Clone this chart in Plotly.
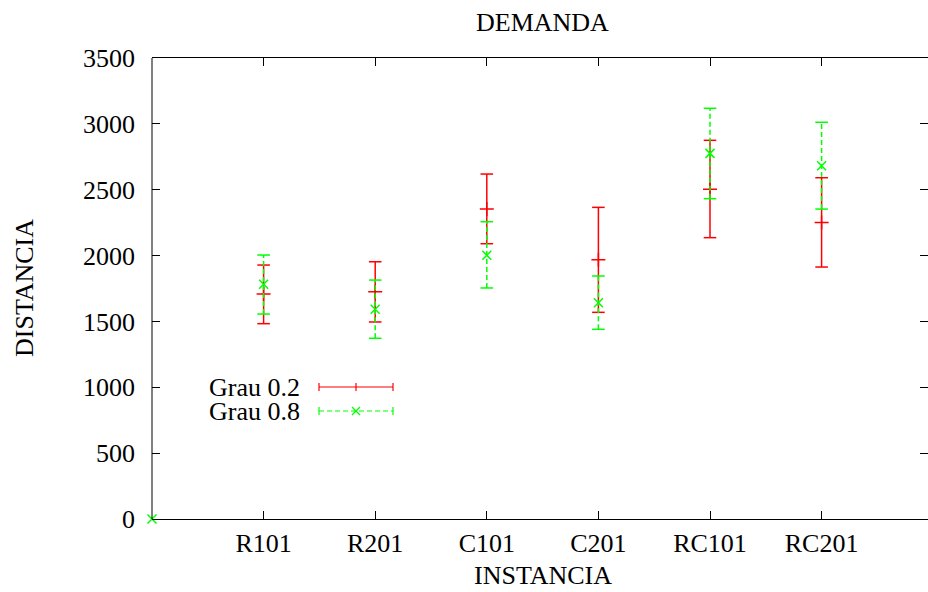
import plotly.graph_objects as go

categories = ["R101", "R201", "C101", "C201", "RC101", "RC201"]
cat_pos = [1, 2, 3, 4, 5, 6]

# Grau 0.2 (red)
g02_mean = [1708, 1726, 2353, 1969, 2503, 2252]
g02_low = [1483, 1496, 2090, 1569, 2136, 1913]
g02_high = [1928, 1953, 2619, 2366, 2875, 2591]

# Grau 0.8 (green) - includes the extra origin point at x=0
g08_x = [0, 1, 2, 3, 4, 5, 6]
g08_mean = [0, 1782, 1592, 2002, 1642, 2776, 2682]
g08_low = [0, 1556, 1372, 1754, 1440, 2432, 2353]
g08_high = [0, 2004, 1814, 2257, 1845, 3118, 3012]

yticks = [0, 500, 1000, 1500, 2000, 2500, 3000, 3500]

RED = "#ff0000"
GREEN = "#00ff00"
FONT = "Liberation Serif"
FS = 26

W, H = 928, 592
ML, MR, MT, MB = 152, 0, 58, 592 - 519
PW = W - ML - MR
PH = H - MT - MB
XSTEP = 111.6  # px per category unit


def bar_traces(xs, lows, highs, color, dash):
    lx, ly, cx, cy = [], [], [], []
    for x, lo, hi in zip(xs, lows, highs):
        if lo == hi:
            continue
        lx += [x, x, None]
        ly += [lo, hi, None]
        cx += [x, x]
        cy += [lo, hi]
    line = go.Scatter(x=lx, y=ly, mode="lines", line=dict(color=color, width=1.5, dash=dash),
                      showlegend=False, hoverinfo="skip")
    caps = go.Scatter(x=cx, y=cy, mode="markers",
                      marker=dict(symbol="line-ew", size=9, line=dict(color=color, width=1.5)),
                      showlegend=False, hoverinfo="skip")
    return [line, caps]


fig = go.Figure()
for t in bar_traces(cat_pos, g02_low, g02_high, RED, "solid"):
    fig.add_trace(t)
fig.add_trace(go.Scatter(x=cat_pos, y=g02_mean, mode="markers", name="Grau 0.2",
                         marker=dict(symbol="cross-thin", size=10, line=dict(color=RED, width=1.5)),
                         showlegend=False, cliponaxis=False))
for t in bar_traces(g08_x, g08_low, g08_high, GREEN, "5px,3px"):
    fig.add_trace(t)
fig.add_trace(go.Scatter(x=g08_x, y=g08_mean, mode="markers", name="Grau 0.8",
                         marker=dict(symbol="x-thin", size=9, line=dict(color=GREEN, width=1.5)),
                         showlegend=False, cliponaxis=False))


# helpers: picture pixel -> paper coordinates
def px2x(px):
    return (px - ML) / PW


def px2y(py):
    return (H - MB - py) / PH


shapes = [
    dict(type="line", xref="paper", yref="paper", x0=0, x1=0, y0=0, y1=1,
         line=dict(color="black", width=1), layer="above"),
]
annotations = []
leg = [("Grau 0.2", RED, "solid", 387, "plus"), ("Grau 0.8", GREEN, "5px,3px", 411, "x")]
for label, col, dash, py, mk in leg:
    y = px2y(py)
    x0, x1, xm = px2x(319), px2x(393), px2x(356)
    dy = 4 / PH
    dx = 4 / PW
    shapes.append(dict(type="line", xref="paper", yref="paper", x0=x0, x1=x1, y0=y, y1=y,
                       line=dict(color=col, width=1.2, dash=dash)))
    for xx in (x0, x1):
        shapes.append(dict(type="line", xref="paper", yref="paper", x0=xx, x1=xx, y0=y - dy, y1=y + dy,
                           line=dict(color=col, width=1.2)))
    if mk == "plus":
        shapes.append(dict(type="line", xref="paper", yref="paper", x0=xm, x1=xm, y0=y - dy, y1=y + dy,
                           line=dict(color=col, width=1.2)))
    else:
        shapes.append(dict(type="line", xref="paper", yref="paper", x0=xm - dx, x1=xm + dx, y0=y - dy, y1=y + dy,
                           line=dict(color=col, width=1.2)))
        shapes.append(dict(type="line", xref="paper", yref="paper", x0=xm - dx, x1=xm + dx, y0=y + dy, y1=y - dy,
                           line=dict(color=col, width=1.2)))
    annotations.append(dict(text=label, xref="paper", yref="paper", x=px2x(302), y=y,
                            xanchor="right", yanchor="middle", showarrow=False,
                            font=dict(family=FONT, size=26, color="black")))

# axis titles
annotations.append(dict(text="INSTANCIA", xref="paper", yref="paper", x=px2x(543), y=px2y(592),
                        xanchor="center", yanchor="bottom", showarrow=False,
                        font=dict(family=FONT, size=FS, color="black")))
annotations.append(dict(text="DISTANCIA", xref="paper", yref="paper", x=px2x(24), y=px2y(288),
                        xanchor="center", yanchor="middle", textangle=-90, showarrow=False,
                        font=dict(family=FONT, size=FS, color="black")))
annotations.append(dict(text="DEMANDA", xref="paper", yref="paper", x=px2x(542), y=px2y(22),
                        xanchor="center", yanchor="middle", showarrow=False,
                        font=dict(family=FONT, size=FS, color="black")))

fig.update_layout(
    width=W, height=H,
    margin=dict(l=ML, r=MR, t=MT, b=MB, autoexpand=False),
    plot_bgcolor="white", paper_bgcolor="white",
    font=dict(family=FONT, size=FS, color="black"),
    showlegend=False,
    shapes=shapes,
    annotations=annotations,
    xaxis=dict(range=[0, PW / XSTEP], tickvals=cat_pos, ticktext=categories,
               showgrid=False, zeroline=False, showline=True, linecolor="black", linewidth=1,
               mirror="ticks", ticks="inside", ticklen=8, tickcolor="black", tickwidth=1,
               ticklabelstandoff=1, automargin=False),
    yaxis=dict(range=[0, 3500], tickvals=yticks,
               showgrid=False, zeroline=False, showline=False,
               mirror="ticks", ticks="inside", ticklen=8, tickcolor="black", tickwidth=1,
               ticklabelstandoff=16, automargin=False),
)

fig.write_html(
    "out.html",
    config={"displayModeBar": False},
    post_script="document.body.style.margin='0';document.body.style.overflow='hidden';",
)
